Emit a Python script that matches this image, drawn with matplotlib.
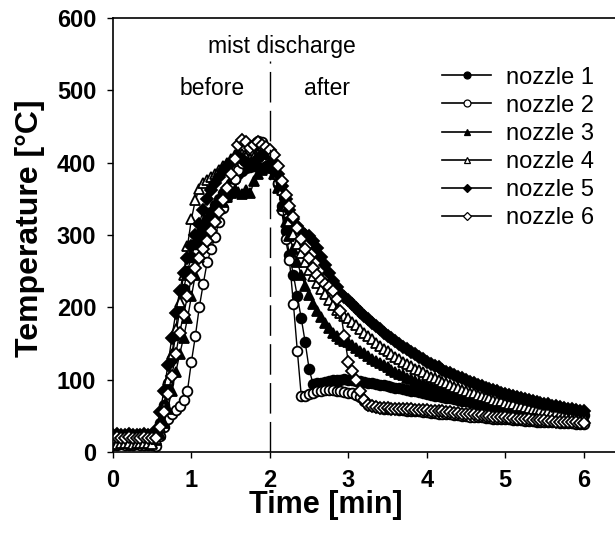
import matplotlib
matplotlib.use('Agg')
import matplotlib.pyplot as plt
from matplotlib.lines import Line2D

plt.rcParams['font.family'] = ['Liberation Sans', 'DejaVu Sans']

time_min = [
    0.00, 0.05, 0.10, 0.15, 0.20, 0.25, 0.30, 0.35, 0.40, 0.45, 0.50,
    0.55, 0.60, 0.65, 0.70, 0.75, 0.80, 0.85, 0.90, 0.95, 1.00,
    1.05, 1.10, 1.15, 1.20, 1.25, 1.30, 1.35, 1.40, 1.45, 1.50,
    1.55, 1.60, 1.65, 1.70, 1.75, 1.80, 1.85, 1.90, 1.95, 2.00,
    2.05, 2.10, 2.15, 2.20, 2.25, 2.30, 2.35, 2.40, 2.45, 2.50,
    2.55, 2.60, 2.65, 2.70, 2.75, 2.80, 2.85, 2.90, 2.95, 3.00,
    3.05, 3.10, 3.15, 3.20, 3.25, 3.30, 3.35, 3.40, 3.45, 3.50,
    3.55, 3.60, 3.65, 3.70, 3.75, 3.80, 3.85, 3.90, 3.95, 4.00,
    4.05, 4.10, 4.15, 4.20, 4.25, 4.30, 4.35, 4.40, 4.45, 4.50,
    4.55, 4.60, 4.65, 4.70, 4.75, 4.80, 4.85, 4.90, 4.95, 5.00,
    5.05, 5.10, 5.15, 5.20, 5.25, 5.30, 5.35, 5.40, 5.45, 5.50,
    5.55, 5.60, 5.65, 5.70, 5.75, 5.80, 5.85, 5.90, 5.95, 6.00,
]

nozzle_1 = [
    18, 19, 18, 17, 18, 19, 18, 18, 17, 18, 19,
    25, 40, 65, 95, 128, 162, 195, 225, 250, 270,
    287, 300, 312, 322, 332, 342, 350, 358, 365, 372,
    378, 384, 389, 392, 394, 395, 394, 392, 395, 398,
    390, 370, 340, 305, 272, 245, 215, 185, 152, 115,
    94, 95, 96, 97, 98, 99, 100, 100, 101, 100,
    99, 98, 98, 97, 96, 95, 94, 93, 92, 91,
    90, 89, 88, 87, 86, 85, 84, 83, 81, 80,
    79, 78, 77, 76, 75, 74, 73, 72, 71, 70,
    69, 68, 67, 67, 66, 65, 64, 63, 63, 62,
    61, 61, 60, 59, 59, 58, 57, 57, 56, 56,
    55, 55, 54, 54, 53, 53, 52, 52, 51, 51,
]

nozzle_2 = [
    10, 9, 11, 10, 9, 10, 11, 10, 9, 10, 9,
    8, 22, 35, 45, 52, 58, 63, 72, 85, 125,
    160, 200, 232, 262, 280, 297, 318, 338, 352, 365,
    378, 390, 400, 410, 418, 425, 430, 428, 420, 412,
    398, 372, 335, 295, 265, 205, 140, 78, 78, 80,
    82, 84, 85, 86, 86, 86, 85, 84, 83, 82,
    81, 79, 76, 70, 65, 63, 62, 61, 60, 60,
    59, 59, 58, 58, 57, 57, 56, 56, 55, 55,
    54, 54, 53, 53, 52, 52, 51, 51, 50, 50,
    49, 49, 48, 48, 47, 47, 46, 46, 46, 45,
    45, 44, 44, 44, 43, 43, 43, 42, 42, 42,
    41, 41, 41, 40, 40, 40, 40, 39, 39, 39,
]

nozzle_3 = [
    14, 15, 13, 14, 15, 14, 13, 14, 15, 14, 13,
    16, 25, 40, 60, 85, 110, 135, 158, 185, 215,
    245, 270, 290, 305, 318, 328, 338, 345, 352, 358,
    362, 360, 357, 362, 358, 375, 385, 390, 393, 395,
    385, 365, 340, 318, 298, 280, 262, 245, 230, 217,
    205, 195, 186, 178, 171, 165, 160, 156, 154, 152,
    148, 144, 140, 137, 133, 129, 126, 123, 120, 117,
    114, 111, 108, 106, 103, 101, 98, 96, 94, 92,
    90, 88, 86, 84, 82, 80, 79, 77, 76, 74,
    73, 71, 70, 68, 67, 66, 65, 64, 62, 61,
    60, 59, 58, 57, 56, 56, 55, 54, 53, 52,
    52, 51, 50, 49, 49, 48, 48, 47, 46, 46,
]

nozzle_4 = [
    12, 11, 12, 13, 12, 11, 12, 12, 13, 12, 11,
    18, 35, 62, 100, 135, 170, 208, 245, 285, 322,
    348, 364, 372, 376, 380, 385, 390, 395, 400, 405,
    410, 415, 412, 408, 405, 408, 412, 415, 418, 415,
    405, 385, 362, 340, 320, 302, 288, 275, 263, 252,
    243, 234, 226, 218, 210, 203, 197, 192, 188, 185,
    180, 175, 170, 165, 160, 156, 151, 147, 143, 139,
    135, 132, 128, 125, 122, 119, 115, 113, 110, 107,
    104, 102, 99, 97, 95, 92, 90, 88, 86, 84,
    82, 81, 79, 77, 76, 74, 72, 71, 70, 68,
    67, 66, 64, 63, 62, 61, 60, 59, 58, 57,
    56, 55, 54, 53, 53, 52, 51, 50, 50, 49,
]

nozzle_5 = [
    24, 25, 23, 24, 25, 24, 23, 24, 25, 24, 23,
    30, 55, 85, 120, 158, 192, 222, 248, 268, 285,
    300, 315, 335, 350, 362, 372, 380, 388, 395, 400,
    405, 408, 405, 400, 398, 400, 405, 410, 412, 410,
    400, 385, 368, 350, 335, 322, 312, 305, 300, 298,
    292, 282, 270, 258, 247, 237, 228, 220, 214, 210,
    204, 199, 194, 188, 184, 179, 174, 170, 165, 161,
    157, 153, 149, 145, 142, 138, 135, 132, 128, 125,
    122, 119, 117, 114, 111, 109, 106, 104, 102, 99,
    97, 95, 93, 91, 89, 87, 86, 84, 82, 80,
    79, 77, 76, 74, 73, 72, 70, 69, 68, 67,
    66, 64, 63, 62, 61, 60, 59, 58, 57, 56,
]

nozzle_6 = [
    20, 21, 19, 20, 21, 20, 19, 20, 21, 20, 19,
    20, 35, 55, 80, 105, 135, 165, 190, 215, 240,
    255, 268, 280, 292, 305, 318, 332, 348, 365, 385,
    405, 425, 432, 428, 420, 425, 428, 425, 422, 418,
    410, 395, 375, 355, 340, 325, 310, 295, 280, 268,
    255, 245, 238, 232, 228, 222, 212, 195, 160, 125,
    112, 100, 85, 72, 65, 63, 62, 61, 61, 61,
    60, 60, 60, 60, 59, 59, 58, 58, 58, 58,
    57, 57, 56, 56, 55, 55, 54, 54, 53, 53,
    52, 52, 51, 51, 50, 50, 49, 49, 48, 48,
    47, 47, 46, 46, 45, 45, 44, 44, 44, 44,
    43, 43, 42, 42, 42, 41, 41, 41, 40, 40,
]

series_labels = ['nozzle 1', 'nozzle 2', 'nozzle 3', 'nozzle 4', 'nozzle 5', 'nozzle 6']
x_ticks = [0, 1, 2, 3, 4, 5, 6]
y_ticks = [0, 100, 200, 300, 400, 500, 600]
discharge_time = 2.0
discharge_line_top = 540

series = [nozzle_1, nozzle_2, nozzle_3, nozzle_4, nozzle_5, nozzle_6]
styles = [('o', 'black'), ('o', 'white'), ('^', 'black'),
          ('^', 'white'), ('D', 'black'), ('D', 'white')]
sizes = [7.0, 7.0, 7.5, 7.5, 6.0, 6.0]
legend_sizes = [5.0, 5.0, 5.0, 5.0, 4.2, 4.2]

fig = plt.figure(figsize=(6.15, 5.39), dpi=100)
ax = fig.add_axes([0.1837, 0.1614, 0.8163, 0.8052])

handles = []
for vals, label, (m, fc), ms, lms in zip(series, series_labels, styles, sizes, legend_sizes):
    ax.plot(time_min, vals, color='black', lw=1.0, marker=m, ms=ms,
            mfc=fc, mec='black', mew=1.3)
    handles.append(Line2D([], [], color='black', lw=1.2, marker=m, ms=lms,
                          mfc=fc, mec='black', mew=0.9, label=label))

ax.plot([discharge_time, discharge_time], [0, discharge_line_top],
        color='black', lw=1.0, dashes=(22, 6))

ax.set_xlim(0, 6.4)
ax.set_ylim(0, 600)
ax.set_xticks(x_ticks)
ax.set_yticks(y_ticks)
ax.spines['right'].set_visible(False)
for s in ['left', 'bottom', 'top']:
    ax.spines[s].set_linewidth(1.2)
ax.tick_params(direction='out', length=4, width=1.0, labelsize=17, pad=8)
for lbl in ax.get_xticklabels() + ax.get_yticklabels():
    lbl.set_fontweight('bold')

ax.set_xlabel('Time [min]', fontsize=22, fontweight='bold')
ax.xaxis.set_label_coords(0.423, -0.088)
ax.set_ylabel('Temperature [°C]', fontsize=23, fontweight='bold')
ax.yaxis.set_label_coords(-0.135, 0.515)

ax.text(2.15, 561, 'mist discharge', ha='center', va='center', fontsize=16.5)
ax.text(1.26, 503, 'before', ha='center', va='center', fontsize=16.5)
ax.text(2.73, 503, 'after', ha='center', va='center', fontsize=16.5)

ax.legend(handles=handles, loc='upper left', bbox_to_anchor=(0.655, 0.888),
          frameon=False, fontsize=17, handlelength=2.1, handletextpad=0.6,
          labelspacing=0.26, borderpad=0, borderaxespad=0)

fig.savefig('out.png', dpi=100)
